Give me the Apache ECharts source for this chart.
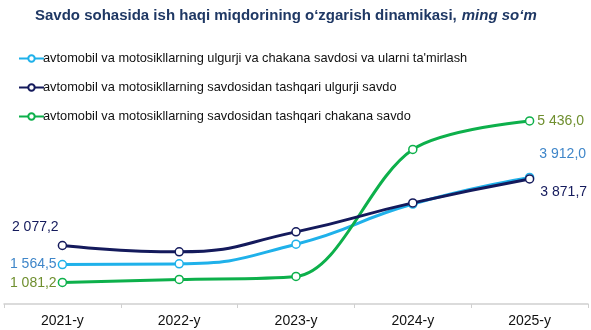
<!DOCTYPE html>
<html>
<head>
<meta charset="utf-8">
<script src="https://cdn.jsdelivr.net/npm/echarts@6/dist/echarts.min.js"></script>
<style>
  html, body { margin: 0; padding: 0; background: #fff; }
  #chart { width: 591px; height: 330px; }
</style>
</head>
<body>
<div id="chart"></div>
<script>
// Wage dynamics in trade, thousand so'm
const years = ['2021-y', '2022-y', '2023-y', '2024-y', '2025-y'];

const seriesNames = [
  "avtomobil va motosikllarning ulgurji va chakana savdosi va ularni ta'mirlash",
  'avtomobil va motosikllarning savdosidan tashqari ulgurji savdo',
  'avtomobil va motosikllarning savdosidan tashqari chakana savdo'
];

const autoTrade = [1564.5, 1582, 2113, 3195, 3912.0];
const wholesale = [2077.2, 1906, 2445, 3226, 3871.7];
const retail = [1081.2, 1162, 1243, 4666, 5436.0];

const lineColors = ['#1fb1ea', '#141a5c', '#0db04b'];
const labelColors = ['#3f86c9', '#141a5c', '#6f8f2f'];
const smoothness = [0.5, 0.5, 0.32];

// "2 077,2" style: space as thousands separator, comma as decimal mark
function fmt(v) {
  const parts = v.toFixed(1).split('.');
  const intPart = parts[0].replace(/\B(?=(\d{3})+(?!\d))/g, ' ');
  return intPart + ',' + parts[1];
}

// label placement for the first and last points of each line
const endLabels = [
  { first: { position: 'left', offset: [4, 0] }, last: { position: 'right', offset: [0, -23] } },
  { first: { position: 'left', offset: [6, -18] }, last: { position: 'right', offset: [1, 13] } },
  { first: { position: 'left', offset: [4, 1] }, last: { position: 'right', offset: [-2, 0] } }
];

function buildData(values, idx) {
  return values.map(function (v, i) {
    const item = { value: v };
    let cfg = null;
    if (i === 0) cfg = endLabels[idx].first;
    if (i === values.length - 1) cfg = endLabels[idx].last;
    if (cfg) {
      item.label = {
        show: true,
        position: cfg.position,
        offset: cfg.offset,
        formatter: function (p) { return fmt(p.value); },
        color: labelColors[idx],
        fontSize: 14,
        fontFamily: 'Liberation Sans, Arial, sans-serif'
      };
    }
    return item;
  });
}

const allValues = [autoTrade, wholesale, retail];

const chart = echarts.init(document.getElementById('chart'), null, { renderer: 'canvas' });

chart.setOption({
  animation: false,
  backgroundColor: '#ffffff',
  title: {
    left: 30,
    top: 2,
    text: '{b|Savdo sohasida ish haqi miqdorining o‘zgarish dinamikasi}{r|,} {i|ming so‘m}',
    textStyle: {
      rich: {
        b: { fontSize: 15, fontWeight: 'bold', color: '#1f3864', fontFamily: 'Liberation Sans, Arial, sans-serif' },
        r: { fontSize: 15, color: '#1f3864', fontFamily: 'Liberation Sans, Arial, sans-serif' },
        i: { fontSize: 15, fontStyle: 'italic', color: '#1f3864', fontFamily: 'Liberation Sans, Arial, sans-serif' }
      }
    }
  },
  legend: {
    orient: 'vertical',
    left: 18,
    top: 52,
    padding: 0,
    itemWidth: 25,
    itemHeight: 8,
    itemGap: 16,
    textStyle: { fontSize: 12.8, color: '#111', fontFamily: 'Liberation Sans, Arial, sans-serif', padding: [0, 0, 0, -6] },
    data: seriesNames
  },
  grid: { left: 4, right: 3, top: 100, bottom: 26, containLabel: false },
  xAxis: {
    type: 'category',
    data: years,
    boundaryGap: true,
    axisLine: { lineStyle: { color: '#d0d0d0', width: 1.5 } },
    axisTick: { show: true, length: 4, lineStyle: { color: '#d0d0d0' } },
    axisLabel: { color: '#111', fontSize: 14, margin: 10, fontFamily: 'Liberation Sans, Arial, sans-serif' }
  },
  yAxis: {
    type: 'value',
    min: 500,
    max: 6000,
    show: false,
    splitLine: { show: false }
  },
  series: allValues.map(function (vals, idx) {
    return {
      name: seriesNames[idx],
      type: 'line',
      smooth: smoothness[idx],
      data: buildData(vals, idx),
      symbol: 'circle',
      symbolSize: 8,
      showAllSymbol: true,
      lineStyle: { color: lineColors[idx], width: 3 },
      itemStyle: { color: '#ffffff', borderColor: lineColors[idx], borderWidth: 1.5 },
      z: idx === 1 ? 3 : 2
    };
  })
});
</script>
</body>
</html>
